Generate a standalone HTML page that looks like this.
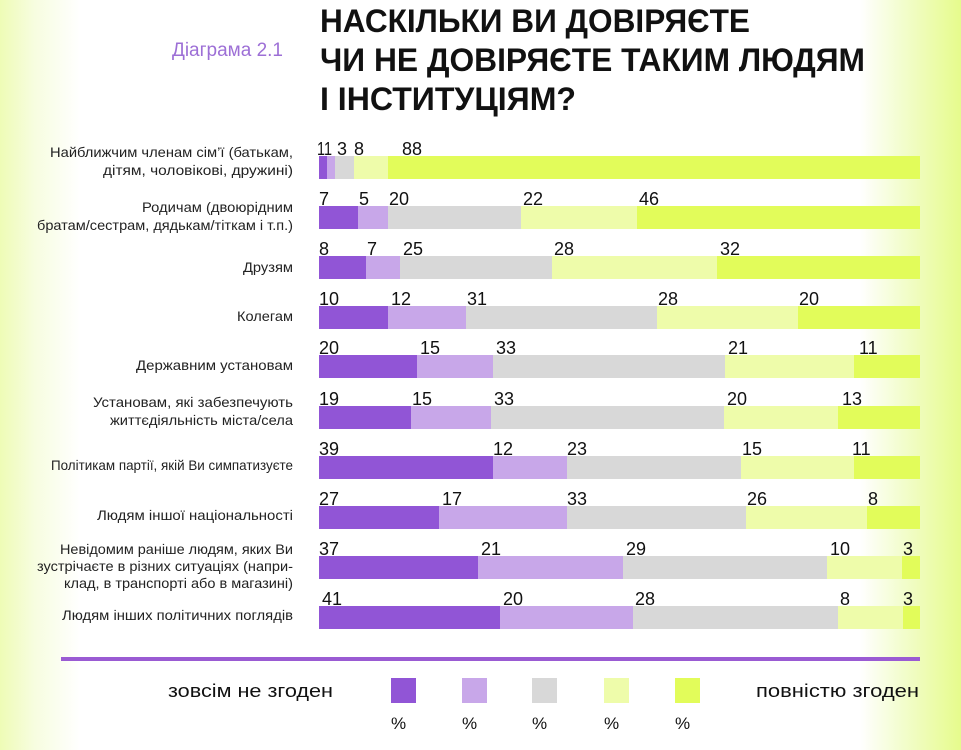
<!DOCTYPE html>
<html><head><meta charset="utf-8">
<style>
html,body{margin:0;padding:0;}
body{width:961px;height:750px;overflow:hidden;background:linear-gradient(to right,#eefcb6 0px,#f7fde0 35px,#ffffff 80px,#ffffff 860px,#f3fdd0 900px,#e6fb8c 961px);}
svg{display:block;}
text{font-family:"Liberation Sans",sans-serif;}
</style></head>
<body>
<svg width="961" height="750" viewBox="0 0 961 750" xmlns="http://www.w3.org/2000/svg">
<!-- Title -->
<g font-weight="bold" font-size="32" fill="#111">
<text x="320" y="32" textLength="430" lengthAdjust="spacingAndGlyphs">НАСКІЛЬКИ ВИ ДОВІРЯЄТЕ</text>
<text x="320" y="71" textLength="545" lengthAdjust="spacingAndGlyphs">ЧИ НЕ ДОВІРЯЄТЕ ТАКИМ ЛЮДЯМ</text>
<text x="320" y="110" textLength="256" lengthAdjust="spacingAndGlyphs">І ІНСТИТУЦІЯМ?</text>
</g>
<text x="283" y="56" font-size="19" fill="#9d6fd6" text-anchor="end">Діаграма 2.1</text>

<!-- Row labels -->
<g font-size="14" fill="#222" text-anchor="end">
<text x="293" y="157" textLength="243" lengthAdjust="spacingAndGlyphs">Найближчим членам сім’ї (батькам,</text>
<text x="293" y="175" textLength="190" lengthAdjust="spacingAndGlyphs">дітям, чоловікові, дружині)</text>
<text x="293" y="212" textLength="151" lengthAdjust="spacingAndGlyphs">Родичам (двоюрідним</text>
<text x="293" y="230" textLength="256" lengthAdjust="spacingAndGlyphs">братам/сестрам, дядькам/тіткам і т.п.)</text>
<text x="293" y="272" textLength="50" lengthAdjust="spacingAndGlyphs">Друзям</text>
<text x="293" y="321" textLength="56" lengthAdjust="spacingAndGlyphs">Колегам</text>
<text x="293" y="370" textLength="157" lengthAdjust="spacingAndGlyphs">Державним установам</text>
<text x="293" y="407" textLength="200" lengthAdjust="spacingAndGlyphs">Установам, які забезпечують</text>
<text x="293" y="425" textLength="183" lengthAdjust="spacingAndGlyphs">життєдіяльність міста/села</text>
<text x="293" y="470" textLength="242" lengthAdjust="spacingAndGlyphs">Політикам партії, якій Ви симпатизуєте</text>
<text x="293" y="520" textLength="196" lengthAdjust="spacingAndGlyphs">Людям іншої національності</text>
<text x="293" y="554" textLength="233" lengthAdjust="spacingAndGlyphs">Невідомим раніше людям, яких Ви</text>
<text x="293" y="571" textLength="256" lengthAdjust="spacingAndGlyphs">зустрічаєте в різних ситуаціях (напри-</text>
<text x="293" y="588" textLength="229" lengthAdjust="spacingAndGlyphs">клад, в транспорті або в магазині)</text>
<text x="293" y="620" textLength="231" lengthAdjust="spacingAndGlyphs">Людям інших політичних поглядів</text>
</g>

<!-- Bars -->
<g>
<rect x="319" y="156" width="8" height="23" fill="#9155d6"/>
<rect x="327" y="156" width="8" height="23" fill="#c8a7e9"/>
<rect x="335" y="156" width="19" height="23" fill="#d8d8d8"/>
<rect x="354" y="156" width="34" height="23" fill="#eefcaa"/>
<rect x="388" y="156" width="532" height="23" fill="#e2fc5a"/>

<rect x="319" y="206" width="39" height="23" fill="#9155d6"/>
<rect x="358" y="206" width="30" height="23" fill="#c8a7e9"/>
<rect x="388" y="206" width="133" height="23" fill="#d8d8d8"/>
<rect x="521" y="206" width="116" height="23" fill="#eefcaa"/>
<rect x="637" y="206" width="283" height="23" fill="#e2fc5a"/>

<rect x="319" y="256" width="47" height="23" fill="#9155d6"/>
<rect x="366" y="256" width="34" height="23" fill="#c8a7e9"/>
<rect x="400" y="256" width="152" height="23" fill="#d8d8d8"/>
<rect x="552" y="256" width="165" height="23" fill="#eefcaa"/>
<rect x="717" y="256" width="203" height="23" fill="#e2fc5a"/>

<rect x="319" y="306" width="69" height="23" fill="#9155d6"/>
<rect x="388" y="306" width="78" height="23" fill="#c8a7e9"/>
<rect x="466" y="306" width="191" height="23" fill="#d8d8d8"/>
<rect x="657" y="306" width="141" height="23" fill="#eefcaa"/>
<rect x="798" y="306" width="122" height="23" fill="#e2fc5a"/>

<rect x="319" y="355" width="98" height="23" fill="#9155d6"/>
<rect x="417" y="355" width="76" height="23" fill="#c8a7e9"/>
<rect x="493" y="355" width="232" height="23" fill="#d8d8d8"/>
<rect x="725" y="355" width="129" height="23" fill="#eefcaa"/>
<rect x="854" y="355" width="66" height="23" fill="#e2fc5a"/>

<rect x="319" y="406" width="92" height="23" fill="#9155d6"/>
<rect x="411" y="406" width="80" height="23" fill="#c8a7e9"/>
<rect x="491" y="406" width="233" height="23" fill="#d8d8d8"/>
<rect x="724" y="406" width="114" height="23" fill="#eefcaa"/>
<rect x="838" y="406" width="82" height="23" fill="#e2fc5a"/>

<rect x="319" y="456" width="174" height="23" fill="#9155d6"/>
<rect x="493" y="456" width="74" height="23" fill="#c8a7e9"/>
<rect x="567" y="456" width="174" height="23" fill="#d8d8d8"/>
<rect x="741" y="456" width="113" height="23" fill="#eefcaa"/>
<rect x="854" y="456" width="66" height="23" fill="#e2fc5a"/>

<rect x="319" y="506" width="120" height="23" fill="#9155d6"/>
<rect x="439" y="506" width="128" height="23" fill="#c8a7e9"/>
<rect x="567" y="506" width="179" height="23" fill="#d8d8d8"/>
<rect x="746" y="506" width="121" height="23" fill="#eefcaa"/>
<rect x="867" y="506" width="53" height="23" fill="#e2fc5a"/>

<rect x="319" y="556" width="159" height="23" fill="#9155d6"/>
<rect x="478" y="556" width="145" height="23" fill="#c8a7e9"/>
<rect x="623" y="556" width="204" height="23" fill="#d8d8d8"/>
<rect x="827" y="556" width="75" height="23" fill="#eefcaa"/>
<rect x="902" y="556" width="18" height="23" fill="#e2fc5a"/>

<rect x="319" y="606" width="181" height="23" fill="#9155d6"/>
<rect x="500" y="606" width="133" height="23" fill="#c8a7e9"/>
<rect x="633" y="606" width="205" height="23" fill="#d8d8d8"/>
<rect x="838" y="606" width="65" height="23" fill="#eefcaa"/>
<rect x="903" y="606" width="17" height="23" fill="#e2fc5a"/>
</g>

<!-- Value labels -->
<g font-size="18" fill="#111">
<text x="317" y="155" textLength="15" lengthAdjust="spacingAndGlyphs">11</text><text x="337" y="155">3</text><text x="354" y="155">8</text><text x="402" y="155">88</text>
<text x="319" y="205">7</text><text x="359" y="205">5</text><text x="389" y="205">20</text><text x="523" y="205">22</text><text x="639" y="205">46</text>
<text x="319" y="255">8</text><text x="367" y="255">7</text><text x="403" y="255">25</text><text x="554" y="255">28</text><text x="720" y="255">32</text>
<text x="319" y="305">10</text><text x="391" y="305">12</text><text x="467" y="305">31</text><text x="658" y="305">28</text><text x="799" y="305">20</text>
<text x="319" y="354">20</text><text x="420" y="354">15</text><text x="496" y="354">33</text><text x="728" y="354">21</text><text x="859" y="354">11</text>
<text x="319" y="405">19</text><text x="412" y="405">15</text><text x="494" y="405">33</text><text x="727" y="405">20</text><text x="842" y="405">13</text>
<text x="319" y="455">39</text><text x="493" y="455">12</text><text x="567" y="455">23</text><text x="742" y="455">15</text><text x="852" y="455">11</text>
<text x="319" y="505">27</text><text x="442" y="505">17</text><text x="567" y="505">33</text><text x="747" y="505">26</text><text x="868" y="505">8</text>
<text x="319" y="555">37</text><text x="481" y="555">21</text><text x="626" y="555">29</text><text x="830" y="555">10</text><text x="903" y="555">3</text>
<text x="322" y="605">41</text><text x="503" y="605">20</text><text x="635" y="605">28</text><text x="840" y="605">8</text><text x="903" y="605">3</text>
</g>

<!-- Divider line -->
<rect x="61" y="657" width="859" height="4" fill="#9a5bd3"/>

<!-- Legend -->
<g font-size="18" fill="#111">
<text x="168" y="697" textLength="165" lengthAdjust="spacingAndGlyphs">зовсім не згоден</text>
<text x="756" y="697" textLength="163" lengthAdjust="spacingAndGlyphs">повністю згоден</text>
</g>
<rect x="391" y="678" width="25" height="25" fill="#9155d6"/>
<rect x="462" y="678" width="25" height="25" fill="#c8a7e9"/>
<rect x="532" y="678" width="25" height="25" fill="#d8d8d8"/>
<rect x="604" y="678" width="25" height="25" fill="#eefcaa"/>
<rect x="675" y="678" width="25" height="25" fill="#e2fc5a"/>
<g font-size="17" fill="#111">
<text x="391" y="729">%</text>
<text x="462" y="729">%</text>
<text x="532" y="729">%</text>
<text x="604" y="729">%</text>
<text x="675" y="729">%</text>
</g>
</svg>
</body></html>
